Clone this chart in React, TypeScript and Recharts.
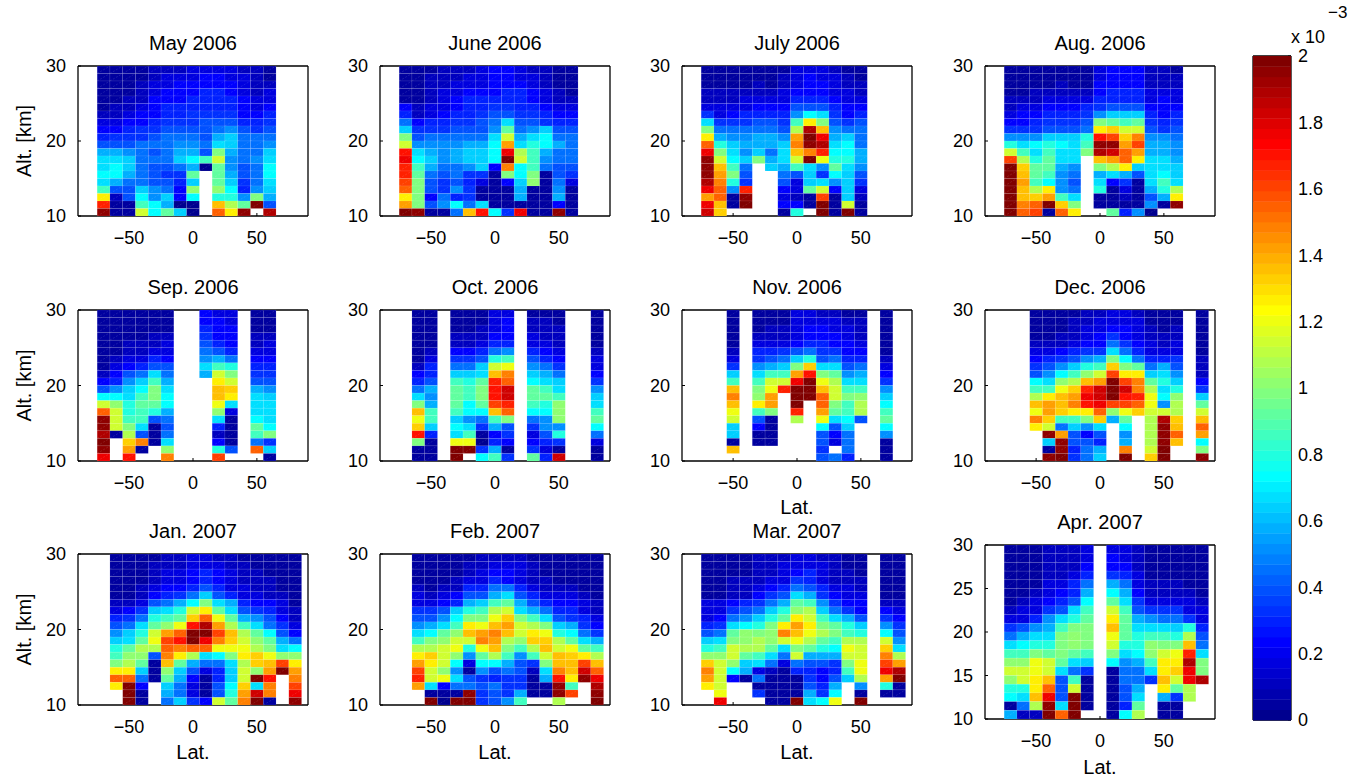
import { ScatterChart, Scatter, XAxis, YAxis } from "recharts";

// latitude bin centres, altitude bin centres (top row first)
const lats = [-80, -70, -60, -50, -40, -30, -20, -10, 0, 10, 20, 30, 40, 50, 60, 70, 80];
const alts = [29.5, 28.5, 27.5, 26.5, 25.5, 24.5, 23.5, 22.5, 21.5, 20.5, 19.5, 18.5, 17.5, 16.5, 15.5, 14.5, 13.5, 12.5, 11.5, 10.5];

// one character per cell, "." is no data; codes run from 0 up to 2e-3
const codes = "0123456789abcdefghijklmnopqrstuvwxyz";

const may2006 = [
  ".11112223333221..", ".11112333443321..", ".11123344444322..", ".11123444554323..", ".11224445555433..",
  ".12234555555434..", ".22344556666445..", ".33445666777556..", ".44566777789767..", ".566678887ab888..",
  ".777888998cb889..", ".aa9878aa7ha88b..", ".ccb888bdfk989c..", ".cdb8778a0g978d..", ".dda8766g.ga78d..",
  ".ca88775b.gb68c..", ".f77b984i.id59b..", ".m27d9b4d.ee9ha..", ".t11fda00.ojgz7..", ".y11kdgb0.rmy.x..",
];
const june2006 = [
  ".11122234432211..", ".11222334433211..", ".11223334443211..", ".11233444554321..", ".11234555554322..",
  ".42334556655433..", ".52345567766544..", ".84556678c77655..", ".b6667779g89b77..", ".h788888ckacd88..",
  ".k9999aadpceda8..", ".uca9abbdvjfa88..", ".vdb9abbdzkf988..", ".tfa889b4qdf877..", ".tg878661hdh176..",
  ".sh7675314bi183..", ".rh7696111a1191..", ".mh4856111a11a1..", ".ph79d8c1111141..", ".zy118oud6v11y1..",
];
const july2006 = [
  ".1111111333211...", ".1111112343321...", ".1111212344322...", ".2222223444332...", ".2223333555433...",
  ".3333444777544...", ".63455559dc645...", ".c666776fmh767...", ".h888887jxo988...", ".ma99aa9pzvab8...",
  ".rebaaabqyxcd8...", ".vhc9b8coqtdda...", ".ykdbhackzleea...", ".yof8.bafc9gc9...", ".yph7..87b6db7...",
  ".xqe6..73bc9b6...", ".vr9t..43gk4b3...", ".pr1y..321s1b2...", ".vo1z..441z1k1...", ".wn....1e.z1z1...",
];
const aug2006 = [
  ".11111113444221..", ".11111113444222..", ".11112114444222..", ".11222224555333..", ".22233335555343..",
  ".23344456777444..", ".34455569bbb545..", ".4456667hgfg656..", ".6667778mnkk767..", ".999bbbeusnq998..",
  ".ecdedcfyypsaa9..", ".kfcfcchxwrpaa9..", ".sjegcc.oprmcca..", ".zngga9.hjmbccb..", ".zogf98.aca7cdb..",
  ".zpfd97.c461cfc..", ".zojm98.e131aej..", ".zonpfc.11217am..", ".zqrznh.111191y..", ".zrs1rm..g590....",
];
const sep2006 = [
  ".111111..433.11..", ".111111..443.11..", ".111111..544.11..", ".111122..644.22..", ".112223..754.23..",
  ".112233..875.33..", ".123354..9a8.44..", ".134577..cfe.55..", ".2478c8..akh.66..", ".459bfa...mk.77..",
  ".79bdhc...on.a9..", ".ddcfhd...om.cb..", ".kieggd...lc.cc..", ".rkefea...i3.cc..", ".ykff78...c1.dc..",
  ".ykhc17...51.gd..", ".x1j718...21.fh..", ".z.nq1c...41.86..", ".y.p1.i...e7.rb..", ".v.u..q...s...1..",
];
const oct2006 = [
  "..11.11133.111..1", "..11.11134.221..1", "..11.11234.222..1", "..11.22244.322..1", "..11.22355.332..1",
  "..12.44589.543..2", "..13.667ef.754..3", "..25.88bkl.986..3", "..45.bbcoq.ba8..4", "..57.fegtr.dcb..6",
  "..8a.gfhuw.gfc..9", "..c9.gfhuw.ggf..b", "..ha.gdgst.fei..c", "..of.fddor.ddi..f", "..lf.b98fh.89i..g",
  "..nb.dc6a7.699..d", "..u5.cf146.37e..8", "..h1.ll054.456..3", "..11.zz6a1.631..1", "..11.z.df6.g5w..1",
];
const nov2006 = [
  "...1.111332211.1.", "...1.111333322.1.", "...1.122344332.1.", "...1.222344432.1.", "...1.333455443.1.",
  "...2.556786644.1.", "...3.678be7855.2.", "...6.9abhncc78.3.", "...b.cffpuhg9a.4.", "...f.fkkvzljcc.6.",
  "...o.hltzzokff.9.", "...q.ip.zzrkhi.b.", "...o.mp.z.rhfj.d.", "...l.fh.t.pgfj.f.", "...k.71.j.lcd7.g.",
  "...b.41...d7b..d.", "...b.11...748..9.", "...1.11...738..1.", "...o......6.8..1.", "..........785..1.",
];
const dec2006 = [
  "...111122332111.1", "...111223333111.1", "...111233443212.1", "...112234643222.1", "...222344864323.1",
  "...334566c85333.1", "...45679ahd8556.2", "...679befnhg8a7.2", "...79dfiksmmbc9.2", "...dcijopzsqgeb.4",
  "...fflntwzwqjce.6", "...jmopvwzutldi.b", "...opoquvssrl9j.g", "...lpnmmrilnkkj.k", "...qnffhnag.jxn.o",
  "...mk8b9c.d.jyo.r", "....yp747.9.jyr.p", "....by775.a.jyo.d", "....1y58a.q.kz..h", "....yz68b.z.nz..y",
];
const jan2007 = [
  "..111122332211111", "..111222333221111", "..111233454322111", "..111233454322211", "..112344575332211",
  "..1124568b7533221", "..22378adhca54431", "..346bcekmgc76532", "..568efgnrlga9742", "..78cgiluxpjfc863",
  "..9bekprzzsojgd74", "..bcglsuzvqnkiga8", "..egjjrqrrllljhcd", "..fii7qmjcdhmnlii", "..hjg1oga88cjnosm",
  "..mmb1ib735bkipzp", "..rr81ga415bkzu.q", "..mz4.b8317dncq.s", "...z1.a8317epwq.v", "...z1.8b64kgqz1.y",
];
const feb2007 = [
  "..111112222111111", "..111122333211111", "..111123443211111", "..111233543221111", "..212255885322211",
  "..323477ac7533321", "..3345abfga754432", "..667befjkca85532", "..779dhhlnhfc7653", "..9acfmlopkjhba64",
  "..cdgiopqokmled86", "..fhikkqpjinnjgca", "..jjklelohfjoklgf", "..mnki9gjf9fkonmj", "..pmkd3dda76hooso",
  "..ski9197872cqowr", "..tklc765661aumyv", "..pc488786611yf.x", "...111y676a11ys.y", "...z0zz679f..j..z",
];
const mar2007 = [
  ".1111222332211.11", ".1111223333211.11", ".1111223453221.11", ".1122233653222.11", ".1122345875332.11",
  ".1122467ca6433.11", ".334568agf9644.22", ".33678beijb864.43", ".3489begmkfca7.64", ".56cdehmpmhgeb.96",
  ".78gihiqoljhfe.d7", ".bchijikljgfjj.k9", ".efkjjgchgedlk.nc", ".iikgfc8kaaakk.qj", ".nkibc838776hl.sp",
  ".qkda3215545fl.vx", ".pk418111647bj.pz", ".mk..111175a.9.e1", "..l..6111a6d.1.11", "..v...11zcdl.z...",
];
const apr2007 = [
  ".1112223.33211111", ".1112223.43211111", ".1112224.44211111", ".1112235.65311111", ".1113358.a8322211",
  ".112345a.da422221", ".123457d.gc633332", ".23367cf.kf766633", ".3359ceg.mga98863", ".679afhh.ogcccbe5",
  ".8acchih.lgeffej7", ".cdeehih.keeihho8", ".ffhghgf.hcdikltc", ".iilkgcb.d9afmmxh", ".kklkc86.188cmnvh",
  ".ikmo7f1.1886okvx", ".eemr7k1.17a.mgj.", ".dcov7z1.17c.a6j.", ".18jycz1.15g.11..", ".a22zrz..1dj.11..",
];

const titles = ["May 2006", "June 2006", "July 2006", "Aug. 2006", "Sep. 2006", "Oct. 2006", "Nov. 2006", "Dec. 2006", "Jan. 2007", "Feb. 2007", "Mar. 2007", "Apr. 2007"];
const months = [may2006, june2006, july2006, aug2006, sep2006, oct2006, nov2006, dec2006, jan2007, feb2007, mar2007, apr2007];
const latTicks = [-50, 0, 50];
const altTicks = [10, 20, 30];
const aprAltTicks = [10, 15, 20, 25, 30];
const barTicks = [0, 0.2, 0.4, 0.6, 0.8, 1, 1.2, 1.4, 1.6, 1.8, 2];

const FONT = "'Liberation Sans', Arial, sans-serif";
const colLeft = [78, 380, 682, 985];
const rowTop = [66, 310, 554];
const rowH = [150, 151, 151];
const PLOT_W = 230;
const LEFT = 72;
const BOTTOM = 70;
const PAD = 14;

// MATLAB jet(64)
function jet(band: number) {
  const t = (Math.min(63, Math.max(0, band)) + 1) / 64;
  const c = (o: number) => Math.round(255 * Math.min(1, Math.max(0, 1.5 - Math.abs(4 * t - o))));
  return `rgb(${c(3)},${c(2)},${c(1)})`;
}

function toCells(rows: string[]) {
  const out: { lat: number; alt: number; v: number }[] = [];
  rows.forEach((row, i) => {
    for (let j = 0; j < row.length; j++) {
      if (row[j] === ".") continue;
      out.push({ lat: lats[j], alt: alts[i], v: (codes.indexOf(row[j]) / 35) * 2 });
    }
  });
  return out;
}

function HeatCell({ cx, cy, payload, w, h }: any) {
  const x = cx - w / 2;
  const y = cy - h / 2;
  const fill = jet(Math.floor((payload.v / 2) * 64));
  return (
    <g>
      <rect x={x} y={y} width={w} height={h} fill={fill} stroke="#fff" strokeOpacity={0.14} strokeWidth={0.6} />
      <line x1={x} y1={y + h} x2={x + w} y2={y} stroke="#fff" strokeOpacity={0.22} strokeWidth={0.5} strokeDasharray="2 1.5" />
    </g>
  );
}

function BarCell({ cx, cy, payload, w, h }: any) {
  return <rect x={cx - w / 2} y={cy - h / 2} width={w} height={h + 0.4} fill={jet(payload.band)} />;
}

const axisLine = { stroke: "#000", strokeWidth: 1.3 };
const tickLine = { stroke: "#000", strokeWidth: 1 };
const tickStyle = { fontSize: 18, fill: "#000", fontFamily: FONT };
const labelStyle = { fontSize: 20, fill: "#000", fontFamily: FONT };

function Panel({ rows, title, left, top, height, ticks, showAlt, showLat, latOffset }: any) {
  const data = toCells(rows);
  const w = PLOT_W / 18;
  const h = height / 20;
  return (
    <>
      <div style={{ position: "absolute", left, width: PLOT_W, top: top - 33, textAlign: "center", font: `20px/20px ${FONT}`, color: "#000", zIndex: 2 }}>
        {title}
      </div>
      <div style={{ position: "absolute", left: left - LEFT, top: top - PAD - 1 }}>
        <ScatterChart
          width={LEFT + PLOT_W + 1 + 4}
          height={PAD + 1 + height + BOTTOM}
          margin={{ top: PAD, right: 4, bottom: 0, left: 0 }}
        >
          <Scatter data={data} dataKey="alt" isAnimationActive={false} shape={(p: any) => <HeatCell {...p} w={w} h={h} />} />
          <XAxis
            dataKey="lat"
            type="number"
            domain={[-90, 90]}
            ticks={latTicks}
            interval={0}
            height={BOTTOM}
            axisLine={axisLine}
            tickLine={tickLine}
            tick={tickStyle}
            tickSize={-3}
            tickMargin={18}
            tickFormatter={(v: number) => String(v).replace("-", "\u2212")}
            label={showLat ? { value: "Lat.", position: "insideBottom", offset: latOffset, style: labelStyle } : undefined}
          />
          <XAxis xAxisId="top" orientation="top" type="number" domain={[-90, 90]} ticks={latTicks} interval={0} height={1} axisLine={axisLine} tickLine={tickLine} tickSize={-3} tickFormatter={() => ""} />
          <YAxis
            dataKey="alt"
            type="number"
            domain={[10, 30]}
            ticks={ticks}
            interval={0}
            width={LEFT}
            axisLine={axisLine}
            tickLine={tickLine}
            tick={tickStyle}
            tickSize={-3}
            tickMargin={15}
            label={showAlt ? { value: "Alt. [km]", angle: -90, position: "insideLeft", offset: 18, style: { ...labelStyle, textAnchor: "middle" } } : undefined}
          />
          <YAxis yAxisId="right" orientation="right" type="number" domain={[10, 30]} ticks={ticks} interval={0} width={1} axisLine={axisLine} tickLine={tickLine} tickSize={-3} tickFormatter={() => ""} />
        </ScatterChart>
      </div>
    </>
  );
}

const bands = Array.from({ length: 64 }, (_, band) => ({ x: 0.5, y: ((band + 0.5) / 64) * 2, band }));

function ColorBar() {
  const left = 1253;
  const top = 56;
  const w = 38;
  const h = 664;
  return (
    <div style={{ position: "absolute", left: left - 2, top: top - PAD - 1 }}>
      <ScatterChart width={2 + w + 1 + 50} height={PAD + 1 + h + 20} margin={{ top: PAD, right: 0, bottom: 0, left: 0 }}>
        <Scatter data={bands} dataKey="y" isAnimationActive={false} shape={(p: any) => <BarCell {...p} w={w} h={h / 64} />} />
        <XAxis dataKey="x" type="number" domain={[0, 1]} ticks={[0, 1]} height={20} axisLine={axisLine} tickLine={false} tick={false} />
        <XAxis xAxisId="top" orientation="top" type="number" domain={[0, 1]} ticks={[0, 1]} height={1} axisLine={axisLine} tickLine={false} tick={false} />
        <YAxis yAxisId="left" type="number" domain={[0, 2]} ticks={barTicks} interval={0} width={2} axisLine={axisLine} tickLine={false} tick={false} />
        <YAxis
          dataKey="y"
          orientation="right"
          type="number"
          domain={[0, 2]}
          ticks={barTicks}
          interval={0}
          width={51}
          axisLine={axisLine}
          tickLine={tickLine}
          tick={tickStyle}
          tickSize={-3}
          tickMargin={10}
        />
      </ScatterChart>
    </div>
  );
}

export default function App() {
  return (
    <div style={{ position: "absolute", left: 0, top: 0, width: 1349, height: 776, background: "#fff", overflow: "hidden" }}>
      {months.map((rows, i) => {
        const r = Math.floor(i / 4);
        const c = i % 4;
        const isApr = i === 11;
        return (
          <Panel
            key={titles[i]}
            rows={rows}
            title={titles[i]}
            left={colLeft[c]}
            top={isApr ? 545 : rowTop[r]}
            height={isApr ? 174 : rowH[r]}
            ticks={isApr ? aprAltTicks : altTicks}
            showAlt={c === 0}
            showLat={r === 2 || i === 6}
            latOffset={isApr ? 15 : i === 6 ? 17 : 16}
          />
        );
      })}
      <ColorBar />
      <div style={{ position: "absolute", left: 1291, top: 27, font: `18px/20px ${FONT}`, color: "#000" }}>x 10</div>
      <div style={{ position: "absolute", left: 1328, top: 3, font: `17px/20px ${FONT}`, color: "#000" }}>{"\u22123"}</div>
    </div>
  );
}
